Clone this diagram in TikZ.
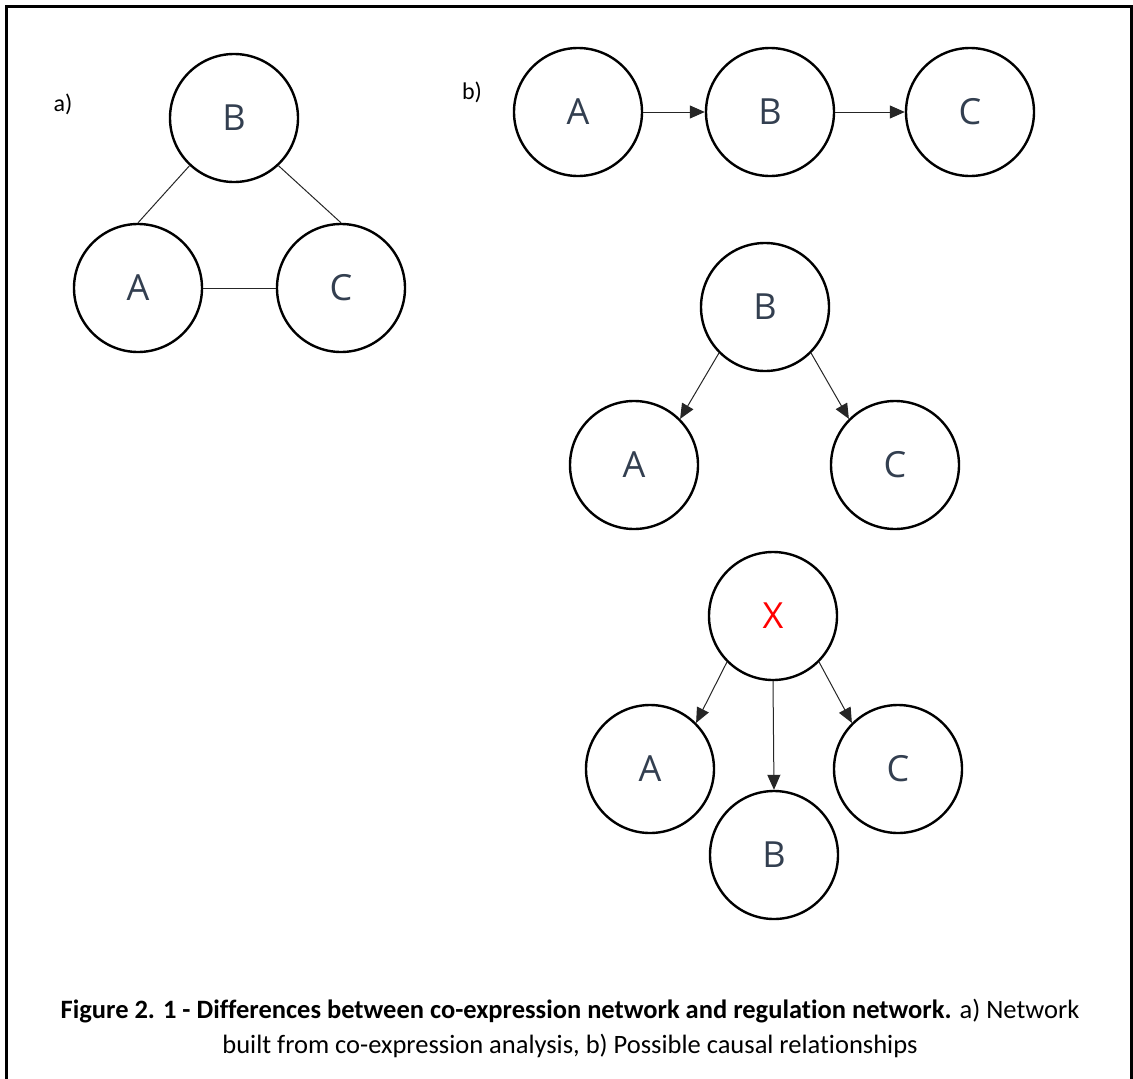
\documentclass[tikz,border=0pt]{standalone}
\usepackage{fontspec}
\setmainfont{Carlito}[Ligatures=NoCommon]
\newfontfamily\letterfont{Open Sans}
\usetikzlibrary{arrows.meta}
\definecolor{lettercol}{RGB}{51,63,80}
\definecolor{markred}{RGB}{255,0,0}
\tikzset{
  gene/.style={circle, draw=black, line width=2.4pt, minimum size=128pt, inner sep=0pt,
    font=\letterfont\fontsize{36}{40}\selectfont, text=lettercol},
  link/.style={line width=1pt, draw=black!85},
  causal/.style={link, -{Triangle[length=15pt,width=13pt]}},
  panel/.style={font=\fontsize{24}{28}\selectfont},
  captext/.style={anchor=base, font=\fontsize{26.5}{32}\selectfont},
}
\begin{document}
\begin{tikzpicture}[x=1pt,y=-1pt]
\useasboundingbox (0,0) rectangle (1133,1079);
% frame
\draw[line width=3pt] (6.5,1085) -- (6.5,6.5) -- (1131,6.5) -- (1131,1085);

% a) co-expression network
\node[panel] (la) at (63,104) {a)};
\node[gene] (aB) at (234,118) {B};
\node[gene] (aA) at (138,288) {A};
\node[gene] (aC) at (341,288) {C};
\draw[link] (aB.227) -- (aA.north);
\draw[link] (aB.313) -- (aC.north);
\draw[link] (aA) -- (aC);

% b) chain A -> B -> C
\node[panel] (lb) at (472,92) {b)};
\node[gene] (cA) at (578,112) {A};
\node[gene] (cB) at (770,112) {B};
\node[gene] (cC) at (970,112) {C};
\draw[causal] (cA) -- (cB);
\draw[causal] (cB) -- (cC);

% b) B drives A and C
\node[gene] (fB) at (765,307) {B};
\node[gene] (fA) at (634,465) {A};
\node[gene] (fC) at (895,465) {C};
\draw[causal] (fB.225) -- (fA.45);
\draw[causal] (fB.315) -- (fC.135);

% b) hidden X drives A, B and C
\node[gene, text=markred] (hX) at (773,616) {X};
\node[gene] (hA) at (650,769) {A};
\node[gene] (hB) at (774,855) {B};
\node[gene] (hC) at (898,769) {C};
\draw[causal] (hX.225) -- (hA.45);
\draw[causal] (hX.south) -- (hB.north);
\draw[causal] (hX.315) -- (hC.135);

% caption
\node[captext] (cap1) at (570,1018)
  {\textbf{Figure 2. 1 - Differences between co-expression network and regulation network.} a) Network};
\node[captext] (cap2) at (570,1053)
  {built from co-expression analysis, b) Possible causal relationships};
\end{tikzpicture}
\end{document}
